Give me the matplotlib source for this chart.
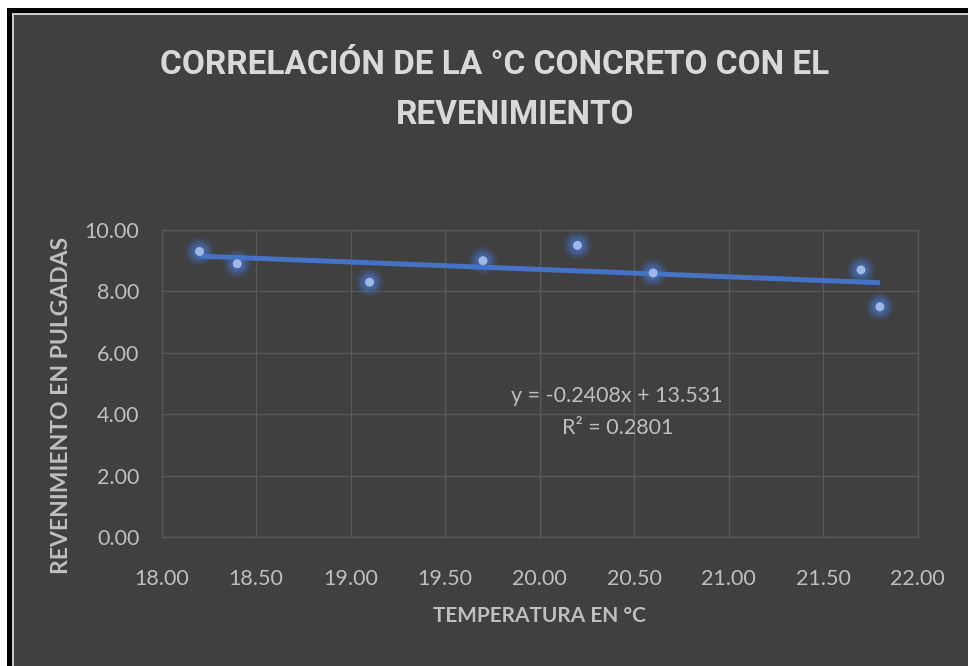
import numpy as np
import matplotlib
matplotlib.use("Agg")
import matplotlib.pyplot as plt
from matplotlib.patches import Rectangle

# datos
temperatura = [18.2, 18.4, 19.1, 19.7, 20.2, 20.6, 21.7, 21.8]
revenimiento = [9.3, 8.9, 8.3, 9.0, 9.5, 8.6, 8.7, 7.5]
x_ticks = [18.0, 18.5, 19.0, 19.5, 20.0, 20.5, 21.0, 21.5, 22.0]
y_ticks = [0, 2, 4, 6, 8, 10]

BG = "#404040"
TXT = "#bfbfbf"
GRID = "#595959"
BLUE = "#4472c4"
DOT = "#9db7e6"

plt.rcParams["font.family"] = ["Lato", "DejaVu Sans"]

fig = plt.figure(figsize=(9.68, 6.66), dpi=100, facecolor="white")
W, H = 968, 666
# marco negro + línea clara + panel gris
for x0, top, col in [(7, 8, "black"), (12, 13, "#c8c8c8"), (14, 15, BG)]:
    fig.patches.append(Rectangle((x0 / W, 0), 1, 1 - top / H, transform=fig.transFigure,
                                 facecolor=col, edgecolor="none", zorder=-10))

ax = fig.add_axes([161.7 / W, 1 - 537 / H, (917.7 - 161.7) / W, (537 - 230) / H])
ax.set_zorder(2)
ax.set_facecolor(BG)
ax.set_xlim(18, 22)
ax.set_ylim(0, 10)
ax.set_xticks(x_ticks)
ax.set_yticks(y_ticks)
ax.set_xticklabels(["%.2f" % v for v in x_ticks])
ax.set_yticklabels(["%.2f" % v for v in y_ticks])
ax.tick_params(colors=TXT, labelsize=15.5, length=0)
ax.tick_params(axis="x", pad=23)
ax.tick_params(axis="y", pad=16)
ax.grid(True, color=GRID, linewidth=1)
for s in ax.spines.values():
    s.set_color(GRID)
    s.set_linewidth(1)
ax.set_axisbelow(True)

# puntos con resplandor
x = np.array(temperatura)
y = np.array(revenimiento)
for size, alpha in [(420, 0.12), (300, 0.18), (200, 0.28), (120, 0.4)]:
    ax.scatter(x, y, s=size, color=BLUE, alpha=alpha, edgecolors="none", zorder=3)
ax.scatter(x, y, s=42, color=DOT, edgecolors="none", zorder=5)

# línea de tendencia
m, b = np.polyfit(x, y, 1)
xl = np.array([x.min(), x.max()])
ax.plot(xl, m * xl + b, color=BLUE, linewidth=3.6, solid_capstyle="butt", zorder=4)

ax.text(20.41, 4.6, "y = -0.2408x + 13.531", color=TXT, fontsize=15.5, ha="center", va="center")
ax.text(20.41, 3.55, "R² = 0.2801", color=TXT, fontsize=15.5, ha="center", va="center")

ax.set_xlabel("TEMPERATURA EN °C", color=TXT, fontsize=15, fontweight="bold")
ax.xaxis.set_label_coords(0.5, -0.225)
ax.set_ylabel("REVENIMIENTO EN PULGADAS", color=TXT, fontsize=16.5, fontweight="bold",
              va="center")
ax.yaxis.set_label_coords(-0.132, 0.427)

title_font = ["Roboto", "Lato", "DejaVu Sans"]
fig.text(495 / W, 1 - 64.5 / H, "CORRELACIÓN DE LA °C CONCRETO CON EL", color="#d9d9d9",
         fontsize=24, fontweight="bold", ha="center", va="center", family=title_font)
fig.text(515 / W, 1 - 115.5 / H, "REVENIMIENTO", color="#d9d9d9",
         fontsize=24, fontweight="bold", ha="center", va="center", family=title_font)

fig.savefig("out.png", dpi=100, facecolor=fig.get_facecolor())
